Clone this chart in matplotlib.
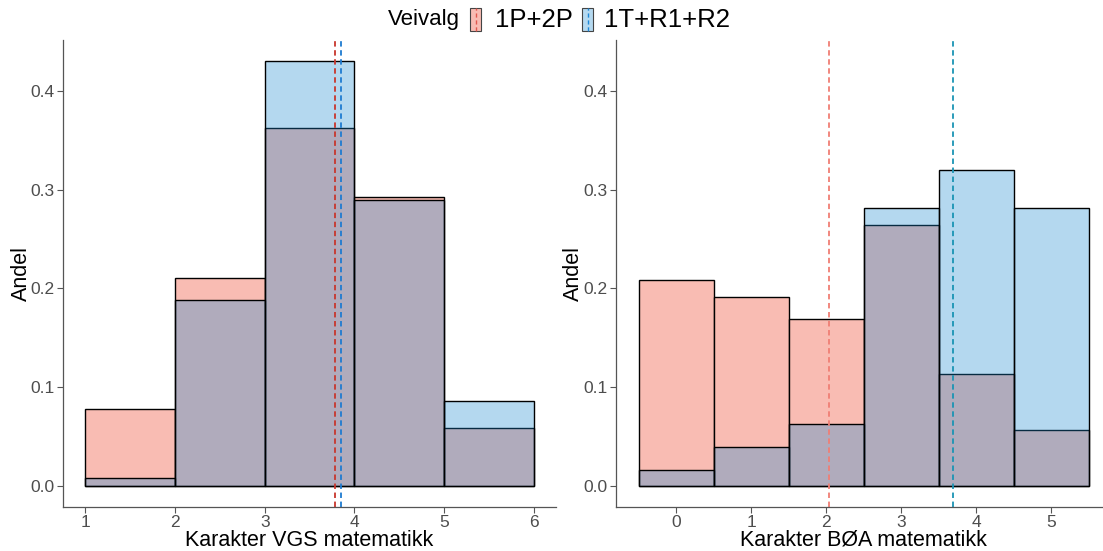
import numpy as np
import matplotlib
matplotlib.use('Agg')
import matplotlib.pyplot as plt
from matplotlib.patches import Rectangle
from matplotlib.lines import Line2D

plt.rcParams['font.family'] = ['Liberation Sans', 'DejaVu Sans']

# Data.
groups = ['1P+2P', '1T+R1+R2']

vgs_grades = [1, 2, 3, 4, 5]            # left edges, bins of width 1
vgs_red = [0.078, 0.210, 0.362, 0.292, 0.059]
vgs_blue = [0.008, 0.188, 0.430, 0.289, 0.086]
vgs_means = [3.78, 3.85]

boa_grades = [0, 1, 2, 3, 4, 5]         # bin centres, width 1
boa_red = [0.208, 0.191, 0.169, 0.264, 0.113, 0.056]
boa_blue = [0.016, 0.039, 0.063, 0.281, 0.320, 0.281]
boa_means = [2.04, 3.69]

red_fill = '#F9BCB3'
blue_fill = (24/255, 136/255, 208/255, 0.32)
W, H = 1103, 551
dash = (0, (3, 2))


def style(ax, xlabel, x0, w, ylab_x):
    for s in ['top', 'right']:
        ax.spines[s].set_visible(False)
    for s in ['left', 'bottom']:
        ax.spines[s].set_color('#555555')
        ax.spines[s].set_linewidth(0.9)
    ax.tick_params(axis='both', labelsize=12.5, colors='#555555', length=4, width=0.8,
                   labelcolor='#4D4D4D', pad=2)
    ax.set_xlabel(xlabel, fontsize=15.5)
    ax.set_ylabel('Andel', fontsize=15.5)
    # label positions in pixels from the reference
    ax.xaxis.set_label_coords(0.5, (507 - 546) / 467)
    ax.xaxis.label.set_va('baseline')
    ax.yaxis.set_label_coords((ylab_x - x0) / w, 0.5)
    ax.yaxis.label.set_va('center')
    ax.set_ylim(-0.0215, 0.4515)
    ax.set_yticks([0.0, 0.1, 0.2, 0.3, 0.4])
    ax.set_yticklabels(['0.0', '0.1', '0.2', '0.3', '0.4'])


fig = plt.figure(figsize=(W/100, H/100), dpi=100)
ax1 = fig.add_axes([63/W, 44/H, 493/W, 467/H])
ax2 = fig.add_axes([616/W, 44/H, 495/W, 467/H])

# Left panel: VGS grades.
ax1.bar(vgs_grades, vgs_red, width=1, align='edge', color=red_fill, edgecolor='black', lw=1.0)
ax1.bar(vgs_grades, vgs_blue, width=1, align='edge', color=blue_fill, edgecolor='black', lw=1.0)
ax1.axvline(vgs_means[0], color='#C8362C', ls=dash, lw=1.3)
ax1.axvline(vgs_means[1], color='#1E7BD0', ls=dash, lw=1.3)
ax1.set_xlim(0.75, 6.25)
ax1.set_xticks([1, 2, 3, 4, 5, 6])
style(ax1, 'Karakter VGS matematikk', 63, 493, 21)

# Right panel: BOA grades.
ax2.bar(boa_grades, boa_red, width=1, color=red_fill, edgecolor='black', lw=1.0)
ax2.bar(boa_grades, boa_blue, width=1, color=blue_fill, edgecolor='black', lw=1.0)
ax2.axvline(boa_means[0], color='#F07E74', ls=dash, lw=1.3)
ax2.axvline(boa_means[1], color='#1A94B4', ls=dash, lw=1.3)
ax2.set_xlim(-0.8, 5.8)
ax2.set_xticks(boa_grades)
style(ax2, 'Karakter BØA matematikk', 616, 495, 573)

# Legend on top, drawn by hand (pixel positions from the reference).
yc = 1 - 20/H
fig.text(388/W, yc, 'Veivalg', fontsize=16, va='center', ha='left')
keys = [(470, red_fill, '#E0584E', 495), (582, '#B5D9F0', '#1E88D8', 604)]
for (kx, fill, line, tx), label in zip(keys, groups):
    fig.add_artist(Rectangle((kx/W, 1 - 31/H), 11/W, 23/H, facecolor=fill,
                             edgecolor='#444444', lw=0.8, transform=fig.transFigure))
    fig.add_artist(Line2D([(kx + 5.5)/W] * 2, [1 - 31/H, 1 - 8/H], color=line, lw=1.0,
                          ls=dash, transform=fig.transFigure))
    fig.text(tx/W, yc, label, fontsize=18.5, va='center', ha='left')

fig.savefig('out.png', dpi=100)
